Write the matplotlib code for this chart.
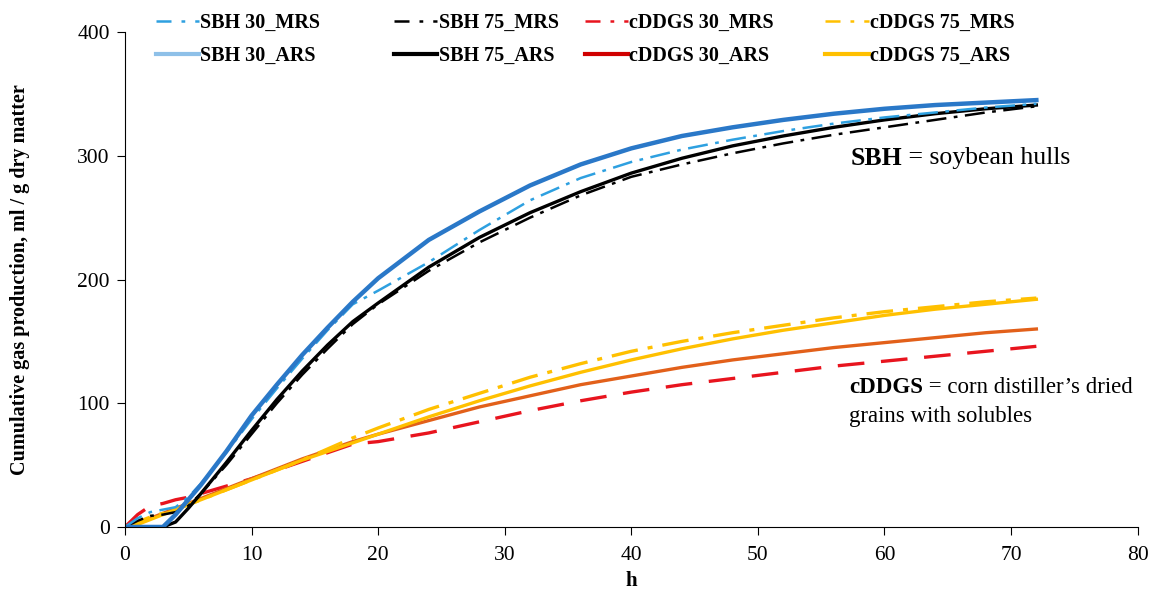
import matplotlib
matplotlib.use("Agg")
import matplotlib.pyplot as plt
from matplotlib.lines import Line2D
from matplotlib.transforms import offset_copy

plt.rcParams['font.family'] = ['Liberation Serif', 'DejaVu Serif']

# incubation time (h)
hours = [0, 1, 2, 3, 4, 5, 6, 8, 10, 12, 14, 16, 18, 20, 24, 28, 32, 36, 40, 44, 48, 52, 56, 60, 64, 68, 72]

sbh30_ars = [0, 0, 0, 0, 10, 22, 34, 61, 90, 115, 139, 161, 182, 201, 232, 255, 276, 293, 306, 316, 323, 329, 334, 338, 341, 343, 345]
sbh75_ars = [0, 0, 0, 0, 4, 15, 27, 52, 78, 103, 126, 147, 166, 181, 210, 234, 254, 271, 286, 298, 308, 316, 323, 329, 334, 338, 341]
sbh30_mrs = [0, 7, 12, 14, 16, 24, 35, 60, 87, 112, 136, 159, 180, 191, 214, 240, 264, 282, 295, 305, 313, 320, 326, 331, 335, 339, 342]
sbh75_mrs = [0, 5, 9, 10, 12, 17, 27, 50, 75, 100, 123, 144, 164, 180, 207, 230, 250, 268, 283, 293, 302, 310, 317, 323, 329, 335, 340]

ddgs30_ars = [0, 3, 7, 11, 15, 19, 23, 31, 39, 47, 55, 62, 69, 75, 86, 97, 106, 115, 122, 129, 135, 140, 145, 149, 153, 157, 160]
ddgs30_mrs = [0, 10, 17, 19, 22, 24, 27, 33, 39, 46, 53, 60, 67, 69, 76, 85, 94, 102, 109, 115, 120, 125, 130, 134, 138, 142, 146]
ddgs75_ars = [0, 2, 6, 10, 14, 18, 22, 30, 38, 46, 54, 61, 68, 75, 89, 102, 114, 125, 135, 144, 152, 159, 165, 171, 176, 180, 184]
ddgs75_mrs = [0, 4, 8, 11, 14, 18, 22, 30, 38, 46, 54, 63, 72, 80, 95, 108, 121, 132, 142, 150, 157, 163, 169, 174, 178, 182, 185]

fig = plt.figure(figsize=(11.56, 5.97), dpi=100)
ax = fig.add_axes([0.1081, 0.1173, 0.876, 0.829])

dashdot = (0, (8, 3, 1.5, 3))
ax.plot(hours, ddgs30_mrs, color='#e8141e', lw=2.4, linestyle=(0, (8, 5)))
ax.plot(hours, ddgs30_ars, color='#e2601a', lw=2.4)
ax.plot(hours, ddgs75_ars, color='#ffc000', lw=2.4)
ax.plot(hours, ddgs75_mrs, color='#ffc000', lw=2.4, linestyle=dashdot)
ax.plot(hours, sbh75_ars, color='black', lw=2.4)
ax.plot(hours, sbh75_mrs, color='black', lw=1.8, linestyle=dashdot)
ax.plot(hours, sbh30_mrs, color='#2ea0e0', lw=1.8, linestyle=dashdot)
ax.plot(hours, sbh30_ars, color='#2a78c8', lw=3.2)

ax.set_xlim(0, 80)
ax.set_ylim(0, 400)
ax.set_xticks(range(0, 81, 10))
ax.set_yticks(range(0, 401, 100))
ax.spines['top'].set_visible(False)
ax.spines['right'].set_visible(False)
ax.tick_params(direction='out', labelsize=15.5, length=6, pad=5)
ax.tick_params(axis='x', pad=8)
ax.set_xlabel('h', fontsize=15, fontweight='bold', labelpad=4)
ax.set_ylabel('Cumulative gas production, ml / g dry matter', fontsize=14.5,
              fontweight='bold', labelpad=34)

# legend: four columns placed like the original
mrs = (0, (6, 4, 1.5, 4))
cols = [
    (0.135, '#2ea0e0', '#8ec0e8', 'SBH 30_MRS', 'SBH 30_ARS'),
    (0.341, 'black', 'black', 'SBH 75_MRS', 'SBH 75_ARS'),
    (0.506, '#e8141e', '#d00000', 'cDDGS 30_MRS', 'cDDGS 30_ARS'),
    (0.714, '#ffc000', '#ffc000', 'cDDGS 75_MRS', 'cDDGS 75_ARS'),
]
for x0, c1, c2, l1, l2 in cols:
    hs = [Line2D([], [], color=c1, lw=1.8, linestyle=mrs),
          Line2D([], [], color=c2, lw=3)]
    fig.legend(hs, [l1, l2], loc='upper left', bbox_to_anchor=(x0, 0.978),
               frameon=False, borderpad=0, borderaxespad=0, handlelength=2.15,
               handletextpad=0.05, labelspacing=0.65,
               prop={'weight': 'bold', 'size': 14.5})

# annotations with bold abbreviation followed by regular text
fig.canvas.draw()
rend = fig.canvas.get_renderer()


def label(x, y, bold, rest, size):
    t = ax.text(x, y, bold, fontsize=size, fontweight='bold', va='center')
    w = t.get_window_extent(rend).width
    ax.text(x, y, ' ' + rest, fontsize=size, va='center',
            transform=offset_copy(ax.transData, fig=fig, x=w, y=0, units='dots'))


label(57.3, 298, 'SBH', '= soybean hulls', 18.5)
label(57.2, 113, 'cDDGS', '= corn distiller\u2019s dried', 16.5)
ax.text(57.2, 89, 'grains with solubles', fontsize=16.5, va='center')

fig.savefig('out.png', dpi=100)
